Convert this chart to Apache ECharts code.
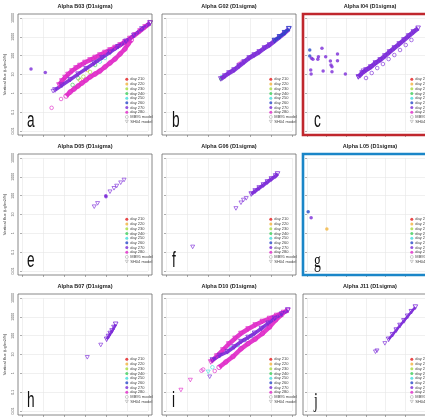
<!DOCTYPE html>
<html>
<head>
<meta charset="utf-8">
<script src="https://cdn.jsdelivr.net/npm/echarts@6/dist/echarts.min.js"></script>
<style>
html, body { margin: 0; padding: 0; background: #fff; }
#chart { width: 425px; height: 420px; }
</style>
</head>
<body>
<div id="chart"></div>
<script>
const panelTitles = [
    'Alpha B03 (D1sigma)', 'Alpha G02 (D1sigma)', 'Alpha I04 (D1sigma)',
    'Alpha D05 (D1sigma)', 'Alpha G06 (D1sigma)', 'Alpha L05 (D1sigma)',
    'Alpha B07 (D1sigma)', 'Alpha D10 (D1sigma)', 'Alpha J11 (D1sigma)',
]
const panelLetters = ['a', 'b', 'c', 'e', 'f', 'g', 'h', 'i', 'j']
const dayNames = ['day 210', 'day 220', 'day 230', 'day 240', 'day 250', 'day 260', 'day 270', 'day 280']
const dayColors = ['#e41a1c', '#f2b43c', '#a8dc3c', '#3ccf5a', '#44dcdc', '#2848c8', '#7b2ad8', '#e02ac8']
const modelNames = ['MB95 model', 'SH04 model']
const yTickLabels = ['0.01', '0.1', '1', '10', '100', '1000', '10000']
const yAxisTitle = 'Vertical flux (ug/m2/h)'

// a: Alpha B03
const b03Dots = [[0.43, 19.5], [1.11, 12.6]]
const b03ShIso = [[1.48, 1.3]]
const b03MbIso = [[1.86, 0.5], [1.41, 0.17]]
const b03Upper = [[1.76, 2.77], [1.9, 4.5], [2.05, 6.9], [2.19, 10], [2.38, 15.3], [2.57, 22.1], [2.76, 30], [3.0, 43.4], [3.24, 58.9], [3.48, 80], [3.71, 108], [3.95, 147], [4.19, 200], [4.43, 271], [4.67, 368], [4.9, 531], [5.14, 815], [5.38, 1250], [5.62, 2040], [5.86, 3330], [6.1, 5420]]
const b03Lower = [[2.1, 0.72], [2.29, 1.17], [2.48, 1.69], [2.67, 2.45], [2.86, 3.53], [3.05, 5.1], [3.24, 7.4], [3.48, 10.6], [3.71, 15.3], [3.95, 25], [4.19, 40.7], [4.43, 66.5], [4.67, 123], [4.9, 226], [5.05, 416], [5.2, 680]]
const b03Sh270 = [[1.57, 1.5], [1.9, 2.7], [2.29, 5.3], [2.67, 10.4], [3.05, 20.3], [3.43, 39.8], [3.81, 78], [4.19, 151], [4.57, 296], [4.95, 579], [5.33, 1178], [5.71, 2606], [6.1, 5420]]
const b03Day220 = [[2.76, 5.1], [3.11, 17.3]]
const b03Day230 = [[2.92, 7.6], [3.24, 13.6]]
const b03Day240 = [[2.41, 2.8], [2.68, 6.3], [3.48, 32], [3.56, 52]]
const b03Day250 = [[3.71, 48], [3.95, 75]]
const b03Day260 = [[4.19, 156], [4.43, 240], [4.67, 368]]

// b: Alpha G02
const g02Sh270 = [[2.61, 5.8], [2.8, 8.3], [3.0, 12], [3.24, 17.3], [3.48, 28], [3.72, 46], [3.96, 75], [4.2, 108], [4.44, 157], [4.69, 255], [4.93, 368], [5.17, 601], [5.41, 980], [5.65, 1600], [5.85, 2600]]
const g02Day260 = [[5.17, 640], [5.41, 1000], [5.65, 1650], [5.85, 2700]]
const g02Day240 = [[2.61, 5.8]]
const g02Day220 = [[2.75, 7.5]]
const g02Day250 = [[2.69, 7.1]]
const g02Day280 = [[3.48, 36], [3.6, 44]]

// c: Alpha I04
const i04Dots260 = [[0.14, 200], [0.14, 96]]
const i04Dots270 = [[0.23, 72], [0.3, 64], [0.19, 17.3], [0.21, 10.6], [0.58, 88], [0.55, 64], [0.76, 246], [0.95, 88], [1.19, 52], [1.22, 32], [1.27, 26], [0.82, 15.3], [1.27, 14], [1.55, 122], [1.55, 54], [1.95, 10.6]]
const i04Band = [[2.61, 7.4], [2.8, 12], [3.0, 17.3], [3.24, 25], [3.48, 40.7], [3.72, 59], [3.96, 96], [4.2, 157], [4.44, 255], [4.69, 416], [4.93, 679], [5.17, 1107], [5.41, 1807], [5.65, 2840]]
const i04Day280 = [[2.9, 14], [3.1, 20], [3.3, 28], [3.5, 42], [3.7, 60]]
const i04MbRow = [[3.0, 6.5], [3.29, 12], [3.57, 22], [3.86, 36], [4.15, 66], [4.44, 108], [4.73, 200], [5.02, 368], [5.31, 679]]
const i04ShIso = [[2.61, 7.4], [2.85, 15.9]]

// e: Alpha D05
const d05Sh = [[3.44, 26], [3.6, 39], [4.19, 162], [4.38, 246], [4.51, 326], [4.7, 488], [4.86, 679]]
const d05Dots = [[3.99, 99.5], [4.0, 88]]

// f: Alpha G06
const g06ShIso = [[1.27, 0.19], [3.33, 21], [3.57, 42], [3.69, 59], [3.82, 72]]
const g06Band = [[4.06, 122], [4.25, 177], [4.44, 255], [4.64, 368], [4.83, 532], [5.02, 767], [5.22, 1107], [5.31, 1413]]

// g: Alpha L05
const l05Day260 = [[0.06, 14]]
const l05Day270 = [[0.21, 6.8]]
const l05Day220 = [[1.01, 1.7]]

// h: Alpha B07
const b07ShIso = [[3.11, 7.1], [3.75, 32]]
const b07Band = [[4.03, 64], [4.12, 90], [4.2, 130], [4.29, 177], [4.38, 271], [4.46, 401]]

// i: Alpha D10
const d10Upper = [[2.13, 4.0], [2.42, 8.3], [2.71, 17.3], [2.99, 36], [3.29, 71], [3.57, 130], [3.91, 226], [4.25, 368], [4.59, 565], [4.93, 815], [5.27, 1178], [5.6, 1700], [5.8, 2168]]
const d10Lower = [[2.53, 2.1], [2.85, 4.0], [3.19, 7.8], [3.57, 20], [3.91, 38], [4.25, 66.5], [4.59, 130], [4.93, 288], [5.22, 679], [5.51, 1330]]
const d10Sh270 = [[2.21, 5.1], [2.56, 8.8], [2.93, 14], [3.24, 25], [3.57, 48], [3.91, 80], [4.22, 133], [4.54, 240], [4.86, 453], [5.17, 815], [5.51, 1400], [5.8, 2300]]
const d10Day250 = [[3.42, 32], [3.09, 22], [2.21, 2.1]]
const d10Day260 = [[3.73, 59], [4.06, 96]]
const d10ShIso280 = [[0.71, 0.13], [1.16, 0.44]]
const d10MbIso280 = [[1.69, 1.38], [1.77, 1.6], [2.32, 1.33]]
const d10ShIso270 = [[2.08, 0.66]]
const d10ShIso250 = [[2.01, 1.2]]

// j: Alpha J11
const j11ShIso = [[3.48, 14], [3.56, 15.9], [3.96, 39]]
const j11Band = [[4.15, 64], [4.35, 112], [4.54, 197], [4.73, 347], [4.93, 608], [5.12, 1067], [5.31, 1871], [5.51, 3288]]

// panel, day, how it is drawn, data
const layers = [
    { panel: 0, day: 'day 280', kind: 'band', shape: 'mb', width: 4.5, data: b03Lower },
    { panel: 0, day: 'day 280', kind: 'band', shape: 'sh', width: 4.5, data: b03Upper },
    { panel: 0, day: 'day 220', kind: 'mb', data: b03Day220 },
    { panel: 0, day: 'day 230', kind: 'mb', data: b03Day230 },
    { panel: 0, day: 'day 240', kind: 'mb', data: b03Day240 },
    { panel: 0, day: 'day 250', kind: 'mb', data: b03Day250 },
    { panel: 0, day: 'day 260', kind: 'mb', data: b03Day260 },
    { panel: 0, day: 'day 270', kind: 'band', shape: 'sh', width: 3.5, data: b03Sh270 },
    { panel: 0, day: 'day 270', kind: 'dot', data: b03Dots },
    { panel: 0, day: 'day 270', kind: 'sh', data: b03ShIso },
    { panel: 0, day: 'day 280', kind: 'mb', data: b03MbIso },

    { panel: 1, day: 'day 270', kind: 'band', shape: 'sh', width: 4.5, data: g02Sh270 },
    { panel: 1, day: 'day 260', kind: 'band', shape: 'sh', width: 3, data: g02Day260 },
    { panel: 1, day: 'day 240', kind: 'dot', data: g02Day240 },
    { panel: 1, day: 'day 220', kind: 'mb', data: g02Day220 },
    { panel: 1, day: 'day 250', kind: 'sh', data: g02Day250 },
    { panel: 1, day: 'day 280', kind: 'mb', data: g02Day280 },

    { panel: 2, day: 'day 260', kind: 'dot', data: i04Dots260 },
    { panel: 2, day: 'day 270', kind: 'dot', data: i04Dots270 },
    { panel: 2, day: 'day 270', kind: 'band', shape: 'sh', width: 4.5, data: i04Band },
    { panel: 2, day: 'day 280', kind: 'mb', data: i04Day280 },
    { panel: 2, day: 'day 270', kind: 'mb', data: i04MbRow },
    { panel: 2, day: 'day 270', kind: 'sh', data: i04ShIso },

    { panel: 3, day: 'day 270', kind: 'sh', data: d05Sh },
    { panel: 3, day: 'day 270', kind: 'dot', data: d05Dots },

    { panel: 4, day: 'day 270', kind: 'sh', data: g06ShIso },
    { panel: 4, day: 'day 270', kind: 'band', shape: 'sh', width: 3.5, data: g06Band },

    { panel: 5, day: 'day 260', kind: 'dot', data: l05Day260 },
    { panel: 5, day: 'day 270', kind: 'dot', data: l05Day270 },
    { panel: 5, day: 'day 220', kind: 'dot', data: l05Day220 },

    { panel: 6, day: 'day 270', kind: 'sh', data: b07ShIso },
    { panel: 6, day: 'day 270', kind: 'band', shape: 'sh', width: 2.5, data: b07Band },

    { panel: 7, day: 'day 280', kind: 'band', shape: 'mb', width: 4.5, data: d10Lower },
    { panel: 7, day: 'day 280', kind: 'band', shape: 'sh', width: 4.5, data: d10Upper },
    { panel: 7, day: 'day 270', kind: 'band', shape: 'sh', width: 3.5, data: d10Sh270 },
    { panel: 7, day: 'day 250', kind: 'mb', data: d10Day250 },
    { panel: 7, day: 'day 260', kind: 'mb', data: d10Day260 },
    { panel: 7, day: 'day 280', kind: 'sh', data: d10ShIso280 },
    { panel: 7, day: 'day 280', kind: 'mb', data: d10MbIso280 },
    { panel: 7, day: 'day 270', kind: 'sh', data: d10ShIso270 },
    { panel: 7, day: 'day 250', kind: 'sh', data: d10ShIso250 },

    { panel: 8, day: 'day 270', kind: 'sh', data: j11ShIso },
    { panel: 8, day: 'day 270', kind: 'band', shape: 'sh', width: 2.5, data: j11Band },
]

// layout
const colLeft = [18, 162, 303]
const rowTop = [14, 154, 294]
const pad = 4
const plotW = 126
const plotH = 113
const frameStyles = { 2: { stroke: '#c0272d', lineWidth: 2.6 }, 5: { stroke: '#1a86c8', lineWidth: 2.6 } }
const font = 'Liberation Sans'
const triangleDown = 'path://M0,0L10,0L5,9Z'

const panels = panelTitles.map((t, i) => ({ col: i % 3, row: Math.floor(i / 3) }))

const chart = echarts.init(document.getElementById('chart'))

const hollow = (color) => ({ color: 'rgba(0,0,0,0)', borderColor: color, borderWidth: 0.8 })

const buildSeries = (layer) => {
    const color = dayColors[dayNames.indexOf(layer.day)]
    const base = {
        name: layer.day,
        xAxisIndex: layer.panel,
        yAxisIndex: layer.panel,
        data: layer.data,
        clip: false,
        silent: true,
        animation: false,
    }
    if (layer.kind === 'dot') {
        return { ...base, type: 'scatter', symbol: 'circle', symbolSize: 3.5, itemStyle: { color } }
    }
    if (layer.kind === 'mb') {
        return { ...base, type: 'scatter', symbol: 'circle', symbolSize: 3.6, itemStyle: hollow(color) }
    }
    if (layer.kind === 'sh') {
        return { ...base, type: 'scatter', symbol: triangleDown, symbolSize: [4, 3.6], itemStyle: hollow(color) }
    }
    return {
        ...base,
        type: 'line',
        symbol: layer.shape === 'sh' ? triangleDown : 'circle',
        symbolSize: 4.6,
        showSymbol: true,
        showAllSymbol: true,
        itemStyle: hollow(color),
        lineStyle: { color, width: layer.width, opacity: 0.92 },
    }
}

// empty series so every legend entry exists
const legendSeries = dayNames.map((name, i) => ({
    name, type: 'scatter', data: [], xAxisIndex: 0, yAxisIndex: 0, itemStyle: { color: dayColors[i] },
})).concat(modelNames.map((name) => ({
    name, type: 'scatter', data: [], xAxisIndex: 0, yAxisIndex: 0, itemStyle: { color: '#999' },
})))

const legendData = dayNames.map((name, i) => ({
    name, icon: 'circle', itemStyle: { color: dayColors[i], borderWidth: 0 },
})).concat([
    { name: modelNames[0], icon: 'circle', itemStyle: { color: '#fff', borderColor: '#9a9a9a', borderWidth: 0.6 } },
    { name: modelNames[1], icon: triangleDown, itemStyle: { color: '#fff', borderColor: '#9a9a9a', borderWidth: 0.6 } },
])

const tickStyle = { show: true, length: 2, inside: false, lineStyle: { color: '#777', width: 0.6 } }
const gridLineStyle = { show: true, lineStyle: { color: '#e6e6e6', width: 0.6 } }

const graphics = []
panels.forEach((p, i) => {
    const x = colLeft[p.col]
    const y = rowTop[p.row]
    const fs = frameStyles[i] || { stroke: '#6b6b6b', lineWidth: 0.8 }
    graphics.push({
        type: 'rect',
        z: 10,
        silent: true,
        shape: { x, y, width: plotW + 2 * pad, height: plotH + 2 * pad },
        style: { fill: 'none', stroke: fs.stroke, lineWidth: fs.lineWidth },
    })
    graphics.push({
        type: 'text',
        z: 10,
        silent: true,
        x: x + (plotW + 2 * pad) / 2,
        y: y - 8,
        style: { text: panelTitles[i], font: 'bold 5.5px "' + font + '"', fill: '#222', align: 'center', verticalAlign: 'middle' },
    })
    const letter = panelLetters[i]
    const serif = letter === 'g' || letter === 'j'
    graphics.push({
        type: 'text',
        z: 10,
        silent: true,
        x: x + 9 + p.col,
        y: y + 118,
        scaleX: 0.62,
        style: {
            text: letter,
            font: '22px "' + (serif ? 'Liberation Serif' : font) + '"',
            fill: '#111',
            align: 'left',
            verticalAlign: 'bottom',
        },
    })
})

const option = {
    animation: false,
    backgroundColor: '#fff',
    textStyle: { fontFamily: font },
    grid: panels.map((p) => ({
        left: colLeft[p.col] + pad,
        top: rowTop[p.row] + pad,
        width: plotW,
        height: plotH,
        containLabel: false,
    })),
    xAxis: panels.map((p, i) => ({
        type: 'value',
        gridIndex: i,
        min: 0,
        max: 6,
        interval: 1,
        offset: pad,
        axisLine: { show: false },
        axisTick: tickStyle,
        axisLabel: { show: false },
        splitLine: gridLineStyle,
    })),
    yAxis: panels.map((p, i) => ({
        type: 'log',
        logBase: 10,
        gridIndex: i,
        min: 0.01,
        max: 10000,
        splitNumber: 6,
        offset: pad,
        axisLine: { show: false },
        axisTick: tickStyle,
        axisLabel: {
            show: p.col === 0,
            rotate: 90,
            fontSize: 3.6,
            color: '#555',
            margin: 3,
            formatter: (v) => yTickLabels[Math.round(Math.log10(v)) + 2],
        },
        splitLine: gridLineStyle,
        name: p.col === 0 ? yAxisTitle : '',
        nameLocation: 'middle',
        nameRotate: 90,
        nameGap: 11,
        nameTextStyle: { fontSize: 4.3, color: '#444' },
    })),
    legend: panels.map((p) => ({
        orient: 'vertical',
        left: colLeft[p.col] + 107,
        top: rowTop[p.row] + 63,
        padding: 0,
        itemWidth: 3,
        itemHeight: 3,
        itemGap: 0,
        selectedMode: false,
        textStyle: { fontSize: 4, lineHeight: 4.7, color: '#444', padding: [0, 0, 0, -3] },
        data: legendData,
    })),
    graphic: graphics,
    series: legendSeries.concat(layers.map(buildSeries)),
}

chart.setOption(option)
</script>
</body>
</html>
